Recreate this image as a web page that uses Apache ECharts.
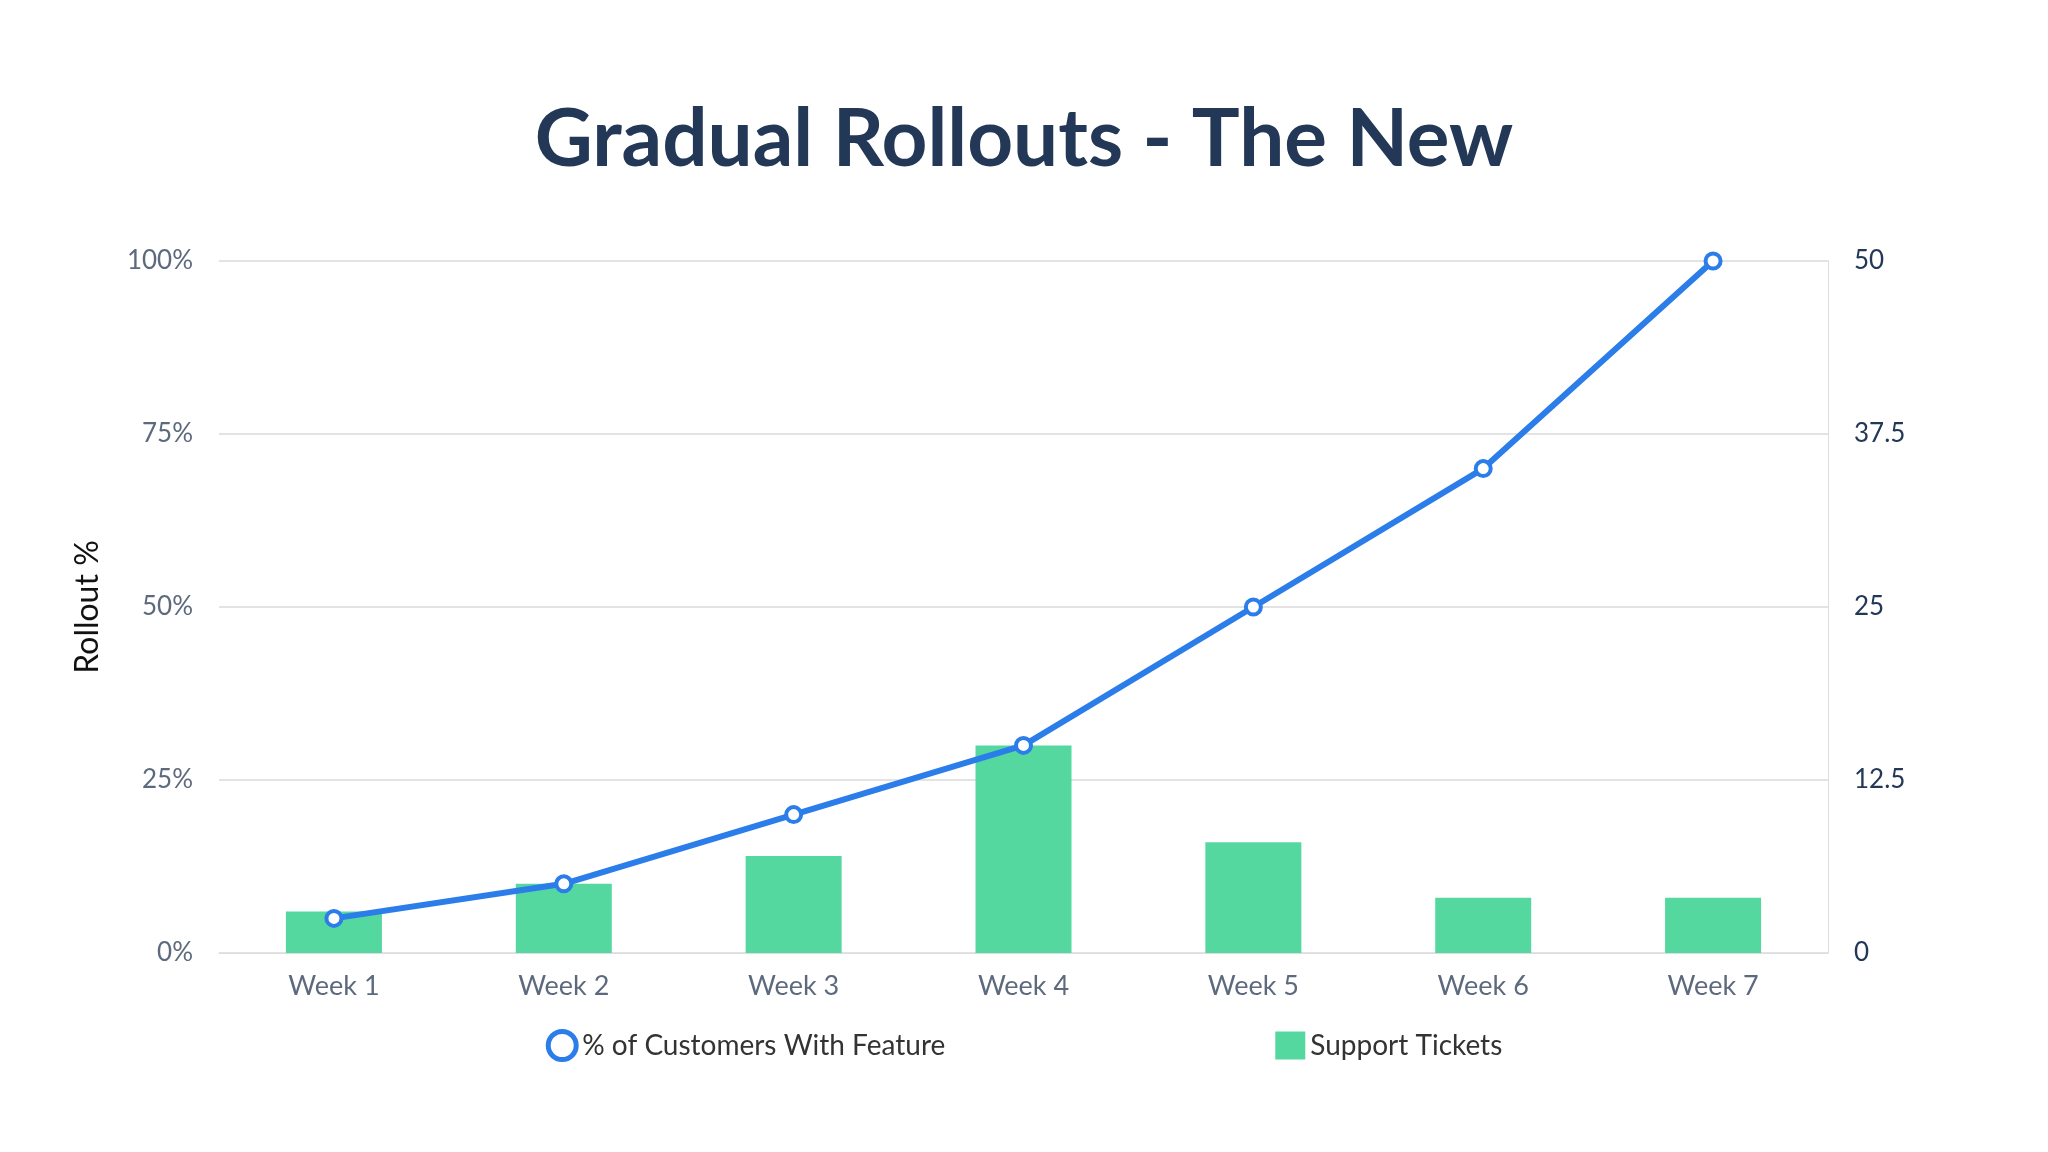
<!DOCTYPE html>
<html><head><meta charset="utf-8">
<script src="https://cdn.jsdelivr.net/npm/echarts@6/dist/echarts.min.js"></script>
<style>html,body{margin:0;background:#fff}#c{width:2048px;height:1152px}</style>
</head><body><div id="c"></div>
<script>
var weeks = ['Week 1', 'Week 2', 'Week 3', 'Week 4', 'Week 5', 'Week 6', 'Week 7'];
var rollout = [5, 10, 20, 30, 50, 70, 100];
var tickets = [3, 5, 7, 15, 8, 4, 4];

var chart = echarts.init(document.getElementById('c'));
var font = 'Lato, "Open Sans", sans-serif';
chart.setOption({
    animation: false,
    title: {
        text: 'Gradual Rollouts - The New',
        left: 'center', top: 95,
        textStyle: { fontSize: 80, fontWeight: 'bold', color: '#233756', fontFamily: font }
    },
    grid: { left: 219, right: 220, top: 261, bottom: 199 },
    legend: {
        bottom: 85, left: 'center', itemGap: 330, itemWidth: 30, itemHeight: 28,
        textStyle: { fontSize: 28, color: '#333', fontFamily: font },
        data: [
            { name: '% of Customers With Feature', icon: 'circle', itemStyle: { color: '#fff', borderColor: '#2b7de9', borderWidth: 5 } },
            { name: 'Support Tickets', icon: 'rect' }
        ]
    },
    xAxis: {
        type: 'category', data: weeks,
        axisLine: { lineStyle: { color: '#ddd' } },
        axisTick: { show: false },
        axisLabel: { fontSize: 27, color: '#5d6a7e', margin: 20, fontFamily: font }
    },
    yAxis: [{
        type: 'value', min: 0, max: 100, interval: 25,
        name: 'Rollout %', nameLocation: 'middle', nameGap: 115, nameRotate: 90,
        nameTextStyle: { fontSize: 32, color: '#111', fontFamily: font },
        axisLabel: { formatter: '{value}%', fontSize: 26, color: '#5d6a7e', margin: 26, fontFamily: font },
        splitLine: { lineStyle: { color: '#e3e3e3', width: 2 } }
    }, {
        type: 'value', min: 0, max: 50, interval: 12.5,
        axisLine: { show: true, lineStyle: { color: '#ddd' } },
        axisLabel: { fontSize: 26, color: '#233756', margin: 26, fontFamily: font },
        splitLine: { show: false }
    }],
    series: [{
        name: 'Support Tickets', type: 'bar', yAxisIndex: 1, data: tickets,
        barWidth: 96, itemStyle: { color: '#55d8a0' }
    }, {
        name: '% of Customers With Feature', type: 'line', data: rollout,
        symbol: 'circle', symbolSize: 15,
        lineStyle: { color: '#2b7de9', width: 6 },
        itemStyle: { color: '#fff', borderColor: '#2b7de9', borderWidth: 4 },
        z: 5
    }]
});
</script></body></html>
